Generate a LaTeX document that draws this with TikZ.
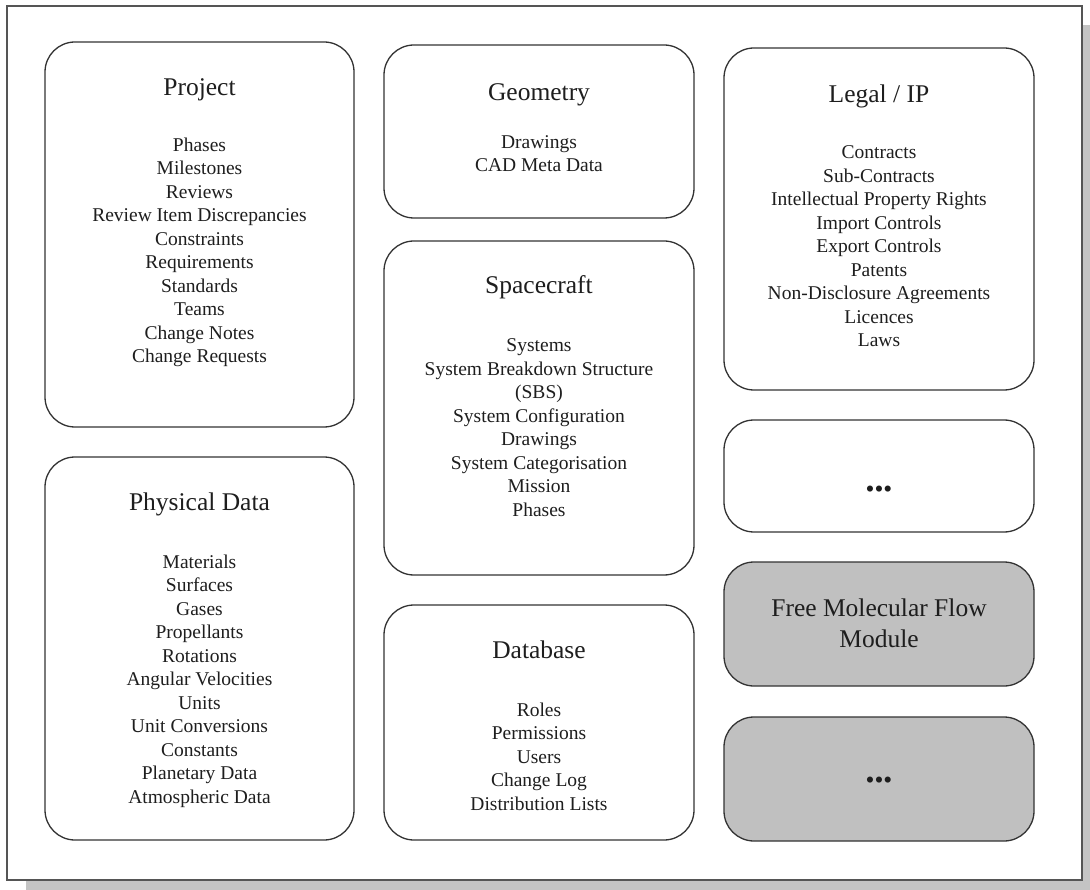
\documentclass[tikz,border=0pt]{standalone}
\usepackage{fontspec}
\setmainfont{Liberation Serif}
\usetikzlibrary{fit}
\definecolor{boxline}{HTML}{333333}
\definecolor{frameline}{HTML}{555555}
\definecolor{shadowgrey}{HTML}{C4C4C4}
\definecolor{modgrey}{HTML}{C0C0C0}
\definecolor{ink}{HTML}{1E1E1E}
\begin{document}
\begin{tikzpicture}[x=1pt,y=-1pt,
  module/.style={draw=boxline, line width=1.3pt, rounded corners=30pt, fill=white, inner sep=0pt},
  shaded/.style={module, fill=modgrey},
  heading/.style={anchor=base, font=\fontsize{25.5}{31}\selectfont, text=ink, align=center, inner sep=0pt},
  entries/.style={anchor=base, font=\fontsize{19.5}{23.5}\selectfont, text=ink, align=center, inner sep=0pt},
]
\useasboundingbox (0,0) rectangle (1090,890);

% page frame with drop shadow
\fill[shadowgrey] (26,25) rectangle (1090,890);
\node[draw=frameline, line width=1.8pt, fill=white, inner sep=0pt, fit={(7,6) (1082,880)}] (frame) {};

% left column (list nodes are placed by the baseline of their last line)
\node[module, fit={(45,42) (354,427)}] (project) {};
\node[heading] (projectT) at (199.5,96) {Project};
\node[entries] (projectL) at (199.5,363) {Phases\\Milestones\\Reviews\\Review Item Discrepancies\\Constraints\\Requirements\\Standards\\Teams\\Change Notes\\Change Requests};

\node[module, fit={(45,457) (354,840)}] (physical) {};
\node[heading] (physicalT) at (199.5,510.5) {Physical Data};
\node[entries] (physicalL) at (199.5,803) {Materials\\Surfaces\\Gases\\Propellants\\Rotations\\Angular Velocities\\Units\\Unit Conversions\\Constants\\Planetary Data\\Atmospheric Data};

% middle column
\node[module, fit={(384,45) (694,218)}] (geometry) {};
\node[heading] (geometryT) at (539,101) {Geometry};
\node[entries] (geometryL) at (539,172) {Drawings\\CAD Meta Data};

\node[module, fit={(384,241) (694,575)}] (spacecraft) {};
\node[heading] (spacecraftT) at (539,294) {Spacecraft};
\node[entries] (spacecraftL) at (539,516) {Systems\\System Breakdown Structure\\(SBS)\\System Configuration\\Drawings\\System Categorisation\\Mission\\Phases};

\node[module, fit={(384,605) (694,840)}] (database) {};
\node[heading] (databaseT) at (539,658) {Database};
\node[entries] (databaseL) at (539,810) {Roles\\Permissions\\Users\\Change Log\\Distribution Lists};

% right column
\node[module, fit={(724,48) (1034,390)}] (legal) {};
\node[heading] (legalT) at (879,103) {Legal / IP};
\node[entries] (legalL) at (879,347) {Contracts\\Sub-Contracts\\Intellectual Property Rights\\Import Controls\\Export Controls\\Patents\\Non-Disclosure Agreements\\Licences\\Laws};

\node[module, fit={(724,420) (1034,532)}] (more) {};
\node[heading] (moreT) at (879,497) {•••};

\node[shaded, fit={(724,562) (1034,686)}] (fmf) {};
\node[heading] (fmfT) at (879,647) {Free Molecular Flow\\Module};

\node[shaded, fit={(724,717) (1034,841)}] (moreshaded) {};
\node[heading] (moreshadedT) at (879,788) {•••};
\end{tikzpicture}
\end{document}
